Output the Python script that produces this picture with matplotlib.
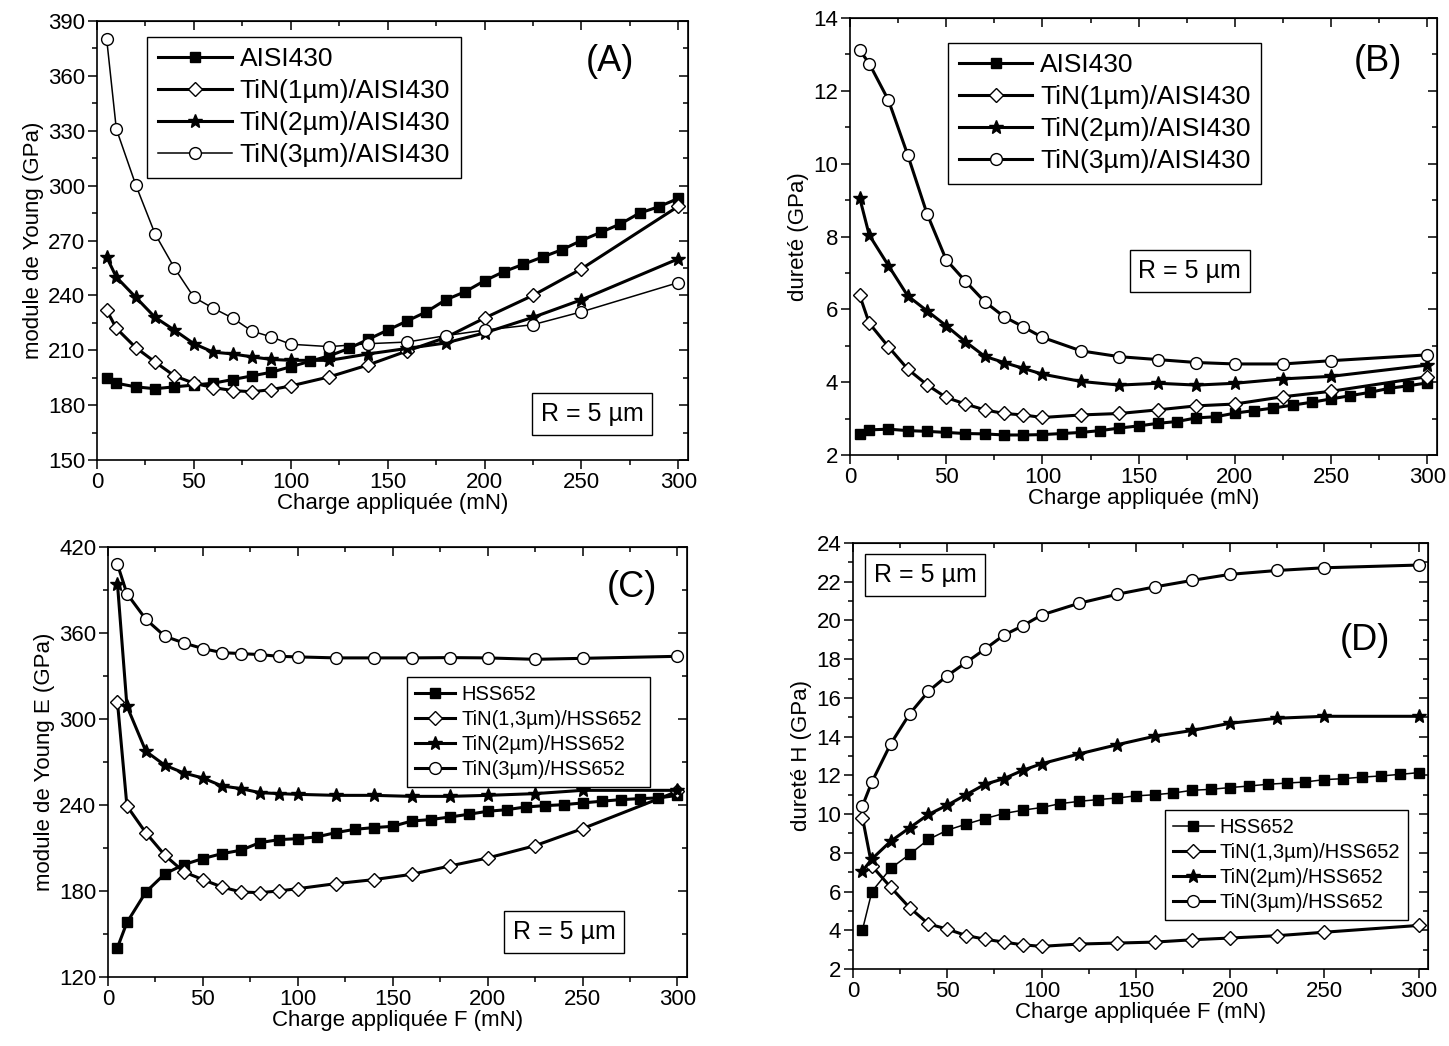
import numpy as np
import matplotlib
matplotlib.use("Agg")
import matplotlib.pyplot as plt
from matplotlib.ticker import MultipleLocator

plt.rcParams['font.family'] = ['Liberation Sans', 'DejaVu Sans']

# x values (charge, mN)
x_dense = [5, 10, 20, 30, 40, 50, 60, 70, 80, 90, 100, 110, 120, 130, 140, 150,
           160, 170, 180, 190, 200, 210, 220, 230, 240, 250, 260, 270, 280, 290, 300]
x_coat = [5, 10, 20, 30, 40, 50, 60, 70, 80, 90, 100, 120, 140, 160, 180, 200, 225, 250, 300]

# (A) module de Young, AISI430
a_sub = [195, 192, 190, 189, 190, 191, 192, 194, 196, 198, 201, 204, 207, 211, 216, 221,
         226, 231, 237.6, 242, 248, 253, 257, 261, 265, 270, 274.5, 279, 285, 288.5, 293]
a_1um = [232, 222, 211.5, 203.6, 196, 192, 189.6, 188, 187.3, 188.5, 190.5, 195.5, 202,
         209.6, 217, 227.6, 240, 254.5, 288.7]
a_2um = [261, 250, 239, 228, 221, 213.6, 209, 208, 206.4, 205, 204.5, 204.5, 208, 211,
         214, 219.5, 228, 237.6, 260]
a_3um = [380.4, 331, 300.5, 273.6, 255, 239, 233, 227.6, 220.5, 217.3, 213.3, 212, 213.6,
         214.5, 218, 221, 224, 231, 247]

# (B) dureté, AISI430
b_sub = [2.59, 2.69, 2.71, 2.67, 2.65, 2.62, 2.59, 2.58, 2.55, 2.55, 2.56, 2.59, 2.62, 2.67,
         2.74, 2.80, 2.87, 2.92, 3.02, 3.05, 3.15, 3.22, 3.29, 3.37, 3.45, 3.54, 3.63, 3.72,
         3.83, 3.90, 3.98]
b_1um = [6.39, 5.62, 4.97, 4.36, 3.93, 3.58, 3.40, 3.24, 3.14, 3.10, 3.03, 3.10, 3.14, 3.24,
         3.35, 3.40, 3.60, 3.75, 4.15]
b_2um = [9.07, 8.04, 7.20, 6.37, 5.96, 5.55, 5.11, 4.71, 4.54, 4.38, 4.22, 4.02, 3.92, 3.97,
         3.92, 3.97, 4.09, 4.16, 4.47]
b_3um = [13.12, 12.75, 11.74, 10.24, 8.63, 7.36, 6.77, 6.21, 5.80, 5.52, 5.23, 4.86, 4.70,
         4.62, 4.54, 4.50, 4.50, 4.59, 4.75]

# (C) module de Young E, HSS652
c_sub = [140.5, 158, 179.3, 192, 198.4, 202.6, 206, 208.4, 213.7, 215.8, 216.5, 217.7, 220.7,
         223, 224.2, 225.1, 228.8, 229.8, 231.6, 233.5, 235.6, 236.7, 238.6, 239.5, 240.2,
         241.4, 242.6, 243.7, 244.4, 244.9, 246.7]
c_13um = [311.9, 239.3, 220.5, 204.9, 193.3, 187.9, 182.8, 179.3, 178.8, 180, 181.6, 185.1,
          187.9, 191.6, 197.4, 203, 211.6, 223.5, 249.5]
c_2um = [394.4, 309, 277.4, 267.7, 262.3, 258.8, 253.3, 251.4, 248.6, 247.9, 247.4, 246.7,
         246.7, 246, 246, 246.7, 247.9, 250.2, 250.2]
c_3um = [407.9, 387.4, 369.5, 357.7, 353, 349.1, 346.3, 345.6, 344.9, 343.7, 343.3, 342.6,
         342.6, 342.6, 342.8, 342.6, 341.6, 342.3, 343.7]

# (D) dureté H, HSS652
d_sub = [4.02, 6.0, 7.2, 7.92, 8.69, 9.17, 9.48, 9.77, 10.03, 10.2, 10.34, 10.54, 10.66, 10.75,
         10.83, 10.94, 11.0, 11.09, 11.23, 11.28, 11.37, 11.45, 11.54, 11.6, 11.66, 11.78,
         11.83, 11.91, 11.97, 12.05, 12.14]
d_13um = [9.82, 7.32, 6.22, 5.17, 4.33, 4.06, 3.73, 3.54, 3.39, 3.25, 3.17, 3.29, 3.34, 3.39,
          3.51, 3.6, 3.72, 3.9, 4.25]
d_2um = [7.06, 7.68, 8.6, 9.29, 9.98, 10.46, 11.0, 11.54, 11.83, 12.26, 12.6, 13.11, 13.58,
         14.02, 14.32, 14.69, 14.95, 15.05, 15.05]
d_3um = [10.42, 11.66, 13.63, 15.17, 16.34, 17.15, 17.83, 18.52, 19.24, 19.72, 20.28, 20.89,
         21.35, 21.73, 22.07, 22.38, 22.58, 22.72, 22.86]

labels_aisi = ['AISI430', 'TiN(1µm)/AISI430', 'TiN(2µm)/AISI430', 'TiN(3µm)/AISI430']
labels_hss = ['HSS652', 'TiN(1,3µm)/HSS652', 'TiN(2µm)/HSS652', 'TiN(3µm)/HSS652']

fig = plt.figure(figsize=(14.49, 10.46), dpi=100)
axA = fig.add_axes([0.0669, 0.5602, 0.4079, 0.4197])
axB = fig.add_axes([0.5866, 0.5650, 0.4051, 0.4178])
axC = fig.add_axes([0.0745, 0.0660, 0.3996, 0.4111])
axD = fig.add_axes([0.5887, 0.0736, 0.3968, 0.4073])

markers = [dict(marker='s', ms=7, mfc='black', mec='black'),
           dict(marker='D', ms=7.5, mfc='white', mec='black', mew=1),
           dict(marker='*', ms=10.5, mfc='black', mec='black'),
           dict(marker='o', ms=8.5, mfc='white', mec='black', mew=1)]


def draw(ax, series, labels, widths):
    xs = [x_dense, x_coat, x_coat, x_coat]
    for i, y in enumerate(series):
        ax.plot(xs[i], y, color='black', lw=widths[i], label=labels[i], **markers[i])


def style(ax, ylim, ymaj, ymin, xlabel, ylabel):
    ax.set_xlim(0, 305)
    ax.set_ylim(*ylim)
    ax.xaxis.set_major_locator(MultipleLocator(50))
    ax.xaxis.set_minor_locator(MultipleLocator(25))
    ax.yaxis.set_major_locator(MultipleLocator(ymaj))
    ax.yaxis.set_minor_locator(MultipleLocator(ymin))
    ax.tick_params(which='both', direction='out', width=1.1, labelsize=16, pad=2)
    ax.tick_params(which='major', length=6.5)
    ax.tick_params(which='minor', length=3.5)
    for s in ax.spines.values():
        s.set_linewidth(1.2)
    top = ax.secondary_xaxis('top')
    top.xaxis.set_major_locator(MultipleLocator(50))
    top.xaxis.set_minor_locator(MultipleLocator(25))
    top.tick_params(which='both', direction='in', labeltop=False, width=1.1)
    top.tick_params(which='major', length=6.5)
    top.tick_params(which='minor', length=3.5)
    right = ax.secondary_yaxis('right')
    right.yaxis.set_major_locator(MultipleLocator(ymaj))
    right.yaxis.set_minor_locator(MultipleLocator(ymin))
    right.tick_params(which='both', direction='in', labelright=False, width=1.1)
    right.tick_params(which='major', length=6.5)
    right.tick_params(which='minor', length=3.5)
    ax.set_xlabel(xlabel, fontsize=16, labelpad=0)
    ax.set_ylabel(ylabel, fontsize=16, labelpad=3)


def rbox(ax, fx, fy):
    ax.text(fx, fy, 'R = 5 µm', transform=ax.transAxes, fontsize=18, ha='center', va='center',
            bbox=dict(boxstyle='square,pad=0.35', fc='white', ec='black', lw=1))


def legend(ax, anchor, size, hl):
    leg = ax.legend(loc='upper left', bbox_to_anchor=anchor, borderaxespad=0, fontsize=size,
                    fancybox=False, edgecolor='black', framealpha=1, handlelength=hl,
                    labelspacing=0.3, borderpad=0.4, handletextpad=0.3)
    leg.get_frame().set_linewidth(1)


# (A)
draw(axA, [a_sub, a_1um, a_2um, a_3um], labels_aisi, [2.2, 2.2, 2.2, 1.1])
style(axA, (150, 390), 30, 15, 'Charge appliquée (mN)', 'module de Young (GPa)')
legend(axA, (0.085, 0.964), 19, 2.8)
axA.text(0.868, 0.907, '(A)', transform=axA.transAxes, fontsize=26, ha='center', va='center')
rbox(axA, 0.838, 0.105)

# (B)
draw(axB, [b_sub, b_1um, b_2um, b_3um], labels_aisi, [2.2, 2.2, 2.2, 2.2])
style(axB, (2, 14), 2, 1, 'Charge appliquée (mN)', 'dureté (GPa)')
legend(axB, (0.167, 0.943), 19, 2.8)
axB.text(0.90, 0.90, '(B)', transform=axB.transAxes, fontsize=26, ha='center', va='center')
rbox(axB, 0.579, 0.421)

# (C)
draw(axC, [c_sub, c_13um, c_2um, c_3um], labels_hss, [2.2, 2.2, 2.2, 2.2])
style(axC, (120, 420), 60, 30, 'Charge appliquée F (mN)', 'module de Young E (GPa)')
legend(axC, (0.516, 0.698), 14.5, 2.0)
axC.text(0.905, 0.905, '(C)', transform=axC.transAxes, fontsize=26, ha='center', va='center')
rbox(axC, 0.788, 0.105)

# (D)
draw(axD, [d_sub, d_13um, d_2um, d_3um], labels_hss, [1.1, 2.2, 2.2, 2.2])
style(axD, (2, 24), 2, 1, 'Charge appliquée F (mN)', 'dureté H (GPa)')
legend(axD, (0.543, 0.373), 14.5, 2.0)
axD.text(0.89, 0.772, '(D)', transform=axD.transAxes, fontsize=26, ha='center', va='center')
rbox(axD, 0.125, 0.925)

fig.savefig('out.png', dpi=100)
